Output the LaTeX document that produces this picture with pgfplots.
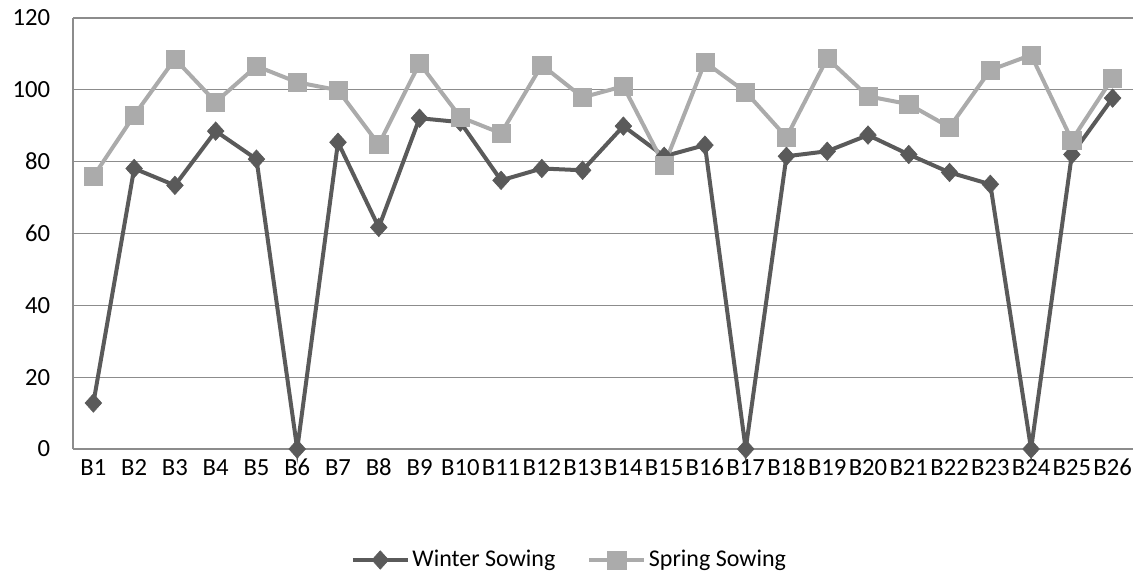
\documentclass[border=0pt]{standalone}
\usepackage{fontspec}
\setmainfont{Carlito}
\usepackage{pgfplots}
\pgfplotsset{compat=1.18}
\definecolor{winter}{HTML}{5A5A5A}
\definecolor{spring}{HTML}{ABABAB}
\definecolor{gridc}{HTML}{8C8C8C}
\begin{document}
\fontsize{18}{21.6}\selectfont
\begin{tikzpicture}
\useasboundingbox (0pt,0pt) rectangle (850.5pt,428.25pt);
\begin{axis}[
  at={(54.75pt,91.5pt)}, anchor=south west,
  scale only axis,
  width=795pt, height=323.25pt,
  xmin=0.5, xmax=26.5, ymin=0, ymax=120,
  ytick={0,20,...,120},
  xtick={1,...,26},
  xticklabels={B1,B2,B3,B4,B5,B6,B7,B8,B9,B10,B11,B12,B13,B14,B15,B16,B17,B18,B19,B20,B21,B22,B23,B24,B25,B26},
  major tick length=0pt,
  ymajorgrids, grid style={gridc, line width=0.8pt},
  axis x line*=bottom, axis y line*=left,
  axis line style={gridc, line width=0.8pt, -},
  tick label style={font=\fontsize{18.5}{22}\selectfont, /pgf/number format/assume math mode=true},
  xticklabel style={anchor=base, yshift=-20pt, inner sep=0pt},
  yticklabel style={anchor=east, inner sep=0pt, xshift=-17pt},
  clip=false,
  legend style={draw=none, fill=none, at={(0.4686,-0.2575)}, anchor=center,
    legend columns=2, font=\fontsize{18}{21.6}\selectfont,
    /tikz/every even column/.append style={column sep=22pt},
    inner sep=0pt},
  legend image code/.code={\draw[mark repeat=2,mark phase=2,#1] plot coordinates {(0pt,0pt)(20.6pt,0pt)(41.2pt,0pt)};},
]
\addplot[winter, line width=3pt, mark=diamond*, mark size=6.9pt, mark options={solid, xscale=1.2, fill=winter, draw=winter, line width=0.5pt}] coordinates {
(1,12.8)(2,78.1)(3,73.4)(4,88.5)(5,80.7)(6,0)(7,85.4)(8,61.7)(9,92.1)(10,91)(11,74.8)(12,78.1)(13,77.6)(14,89.9)(15,81.5)(16,84.6)(17,0)(18,81.5)(19,82.9)(20,87.4)(21,82)(22,77)(23,73.7)(24,0)(25,82)(26,97.7)};
\addlegendentry{Winter Sowing}
\addplot[spring, line width=3pt, mark=square*, mark size=6.8pt, mark options={solid, fill=spring, draw=spring, line width=0.5pt}] coordinates {
(1,75.9)(2,92.9)(3,108.6)(4,96.6)(5,106.6)(6,102.1)(7,99.9)(8,84.8)(9,107.4)(10,92.4)(11,87.9)(12,106.9)(13,97.9)(14,101)(15,79)(16,107.7)(17,99.4)(18,86.8)(19,108.8)(20,98.2)(21,96)(22,89.6)(23,105.5)(24,109.7)(25,86)(26,103.3)};
\addlegendentry{Spring Sowing}
\end{axis}
\end{tikzpicture}
\end{document}
